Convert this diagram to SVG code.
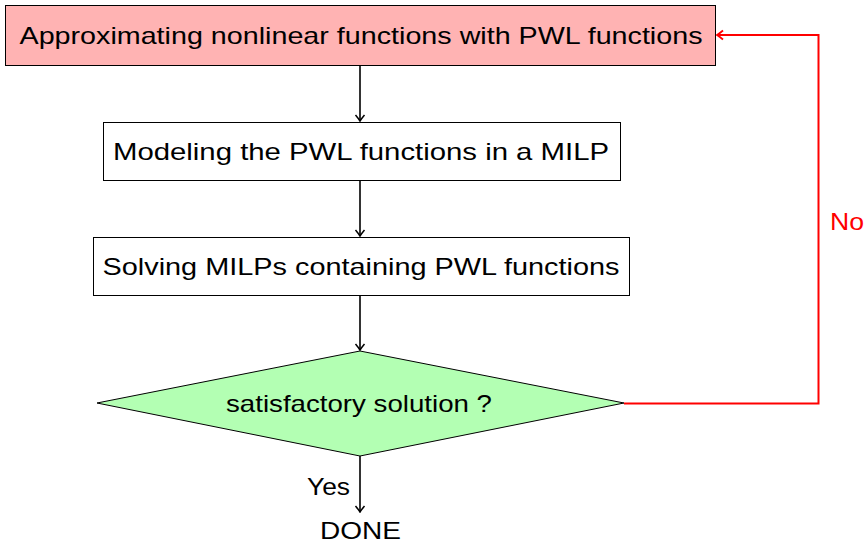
<svg xmlns="http://www.w3.org/2000/svg" width="867" height="544" viewBox="0 0 867 544">
<style>
.box{stroke:#000;stroke-width:1}
.t{font-family:"Liberation Sans","DejaVu Sans",sans-serif;font-size:24px;fill:#000}
.c{fill:none;stroke:#000;stroke-width:1.6}
.r{fill:none;stroke:#f00;stroke-width:2}
</style>
<defs>
<marker id="ab" viewBox="-7 -6 8 12" refX="0" refY="0" markerWidth="8" markerHeight="12" markerUnits="userSpaceOnUse" orient="auto">
<path d="M-6,-4.5 Q-2,-1.2 0,0 Q-2,1.2 -6,4.5" fill="none" stroke="#000" stroke-width="1.5"/>
</marker>
<marker id="ar" viewBox="-7 -6 8 12" refX="0" refY="0" markerWidth="8" markerHeight="12" markerUnits="userSpaceOnUse" orient="auto">
<path d="M-6,-4.5 Q-2,-1.2 0,0 Q-2,1.2 -6,4.5" fill="none" stroke="#f00" stroke-width="1.8"/>
</marker>
</defs>
<g id="n1">
<rect class="box" x="5.5" y="5.5" width="710" height="60" fill="#ffb3b3"/>
<text class="t" x="361" y="44" text-anchor="middle" textLength="683" lengthAdjust="spacingAndGlyphs">Approximating nonlinear functions with PWL functions</text>
</g>
<g id="n2">
<rect class="box" x="103.5" y="122.5" width="517" height="58" fill="#fff"/>
<text class="t" x="361" y="160" text-anchor="middle" textLength="496" lengthAdjust="spacingAndGlyphs">Modeling the PWL functions in a MILP</text>
</g>
<g id="n3">
<rect class="box" x="93.5" y="237.5" width="536" height="58" fill="#fff"/>
<text class="t" x="361" y="275" text-anchor="middle" textLength="517" lengthAdjust="spacingAndGlyphs">Solving MILPs containing PWL functions</text>
</g>
<g id="n4">
<polygon class="box" points="360,351 624,403 360,456 97,403" fill="#b3ffb3"/>
<text class="t" x="359" y="412" text-anchor="middle" textLength="266" lengthAdjust="spacingAndGlyphs">satisfactory solution ?</text>
</g>
<g id="n5">
<text class="t" x="360.5" y="539" text-anchor="middle" textLength="81" lengthAdjust="spacingAndGlyphs">DONE</text>
</g>
<g id="connectors">
<line class="c" x1="360" y1="66" x2="360" y2="121" marker-end="url(#ab)"/>
<line class="c" x1="360" y1="181" x2="360" y2="236" marker-end="url(#ab)"/>
<line class="c" x1="360" y1="296" x2="360" y2="350" marker-end="url(#ab)"/>
<line class="c" x1="360" y1="456" x2="360" y2="512" marker-end="url(#ab)"/>
<polyline class="r" points="624,403.5 818.5,403.5 818.5,35 717,35" marker-end="url(#ar)"/>
<text class="t" x="307" y="495" textLength="43" lengthAdjust="spacingAndGlyphs">Yes</text>
<text class="t" x="830" y="230" textLength="34" lengthAdjust="spacingAndGlyphs" style="fill:#f00">No</text>
</g>
</svg>
